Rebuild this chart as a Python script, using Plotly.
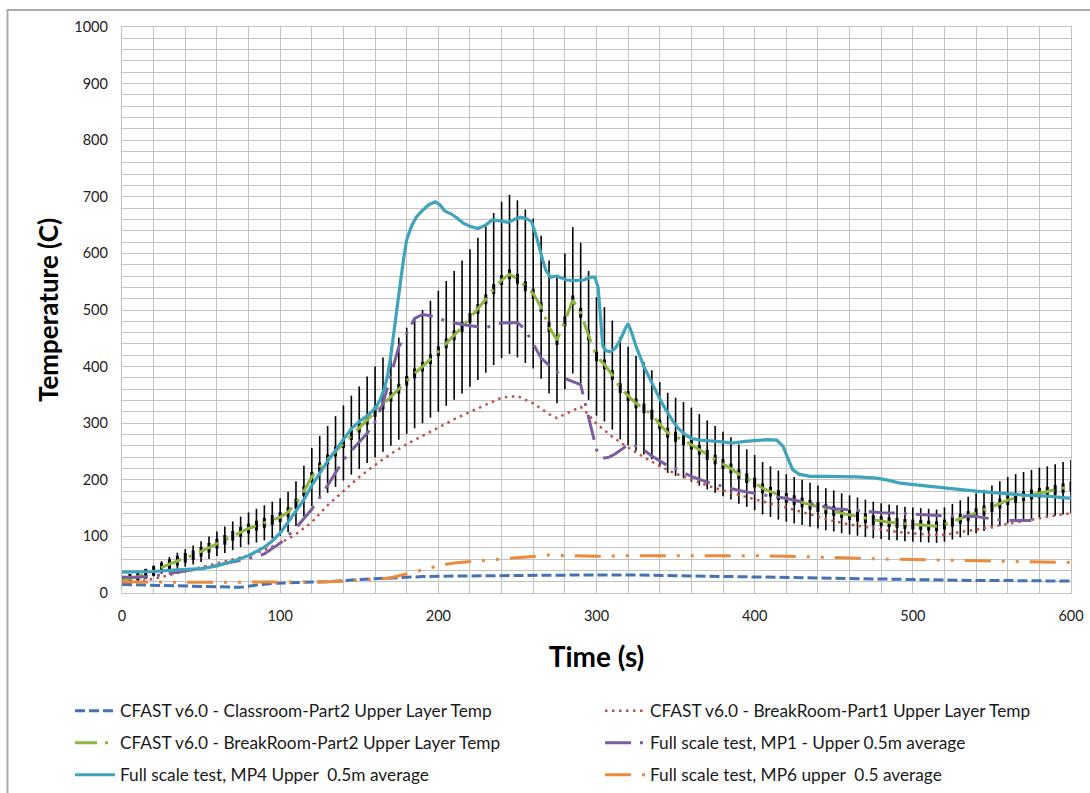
import plotly.graph_objects as go

# ---------------- data ----------------
# CFAST v6.0 - BreakRoom-Part2 (5 s steps, 0..600)
t_green = list(range(0, 605, 5))
green = [22, 25, 29, 34, 39, 45, 51, 57, 62, 67, 73, 80, 87, 94, 101, 108, 114, 119, 124, 129,
         134, 143, 158, 180, 205, 222, 236, 250, 265, 279, 292, 306, 320, 333, 347, 361, 375, 388, 400, 413,
         427, 441, 455, 470, 486, 502, 519, 537, 553, 563, 555, 542, 529, 505, 470, 447, 480, 517, 495, 455,
         418, 404, 385, 362, 348, 335, 326, 315, 298, 283, 276, 270, 262, 253, 244, 236, 228, 220, 210, 203,
         195, 185, 179, 173, 168, 164, 160, 156, 152, 148, 145, 141, 138, 135, 132, 129, 127, 125, 124, 122,
         121, 120, 119, 118, 121, 126, 131, 136, 141, 146, 152, 158, 164, 168, 171, 174, 177, 179, 182, 185,
         188]

# CFAST v6.0 - Classroom-Part2
t_blue = [0, 20, 40, 60, 75, 85, 95, 110, 130, 150, 170, 190, 210, 240, 280, 300, 320, 340, 360, 380,
          400, 420, 440, 460, 480, 500, 520, 540, 560, 580, 600]
blue = [15, 14, 13, 11, 10, 14, 17, 18.5, 20, 24, 27, 29, 30, 31, 32, 32, 32, 31, 31, 30,
        29, 27, 26, 25, 25, 24, 22, 22, 22, 21, 21]

# CFAST v6.0 - BreakRoom-Part1
t_red = [0, 10, 20, 30, 40, 50, 60, 70, 80, 90, 100, 110, 120, 130, 140, 150, 160, 170, 180, 190,
         200, 210, 220, 230, 240, 250, 260, 270, 275, 280, 290, 295, 300, 310, 320, 330, 340, 350, 360, 370,
         380, 390, 400, 410, 420, 430, 440, 450, 460, 470, 480, 490, 500, 510, 520, 530, 540, 550, 560, 570,
         580, 590, 600]
red = [18, 20, 25, 32, 39, 46, 53, 60, 66, 76, 88, 104, 125, 155, 180, 205, 226, 246, 263, 278,
       292, 307, 320, 333, 345, 348, 335, 316, 309, 316, 329, 315, 299, 276, 257, 240, 224, 211, 200, 190,
       181, 173, 166, 158, 151, 143, 134, 127, 121, 116, 112, 108, 105, 103, 103, 107, 112, 117, 122, 128,
       133, 137, 141]

# Full scale test, MP1 - Upper 0.5m average
t_purple = [0, 10, 20, 30, 40, 50, 60, 70, 80, 90, 100, 110, 120, 130, 140, 150, 155, 160, 165, 170,
            175, 180, 185, 190, 195, 200, 210, 220, 230, 240, 250, 255, 260, 265, 270, 280, 290, 293, 296, 300,
            304, 308, 312, 320, 327, 335, 345, 360, 370, 380, 390, 400, 410, 420, 430, 440, 450, 460, 470, 480,
            490, 500, 510, 520, 530, 540, 550, 560, 575]
purple = [28, 28, 30, 35, 39, 43, 49, 56, 61, 69, 88, 115, 148, 190, 235, 267, 282, 303, 335, 385,
          435, 458, 485, 492, 490, 485, 477, 472, 469, 477, 478, 465, 440, 415, 402, 379, 368, 335, 300, 253,
          238, 240, 246, 262, 259, 242, 225, 206, 196, 188, 181, 176, 172, 167, 161, 155, 149, 147, 144, 142,
          141, 140, 138, 136, 135, 135, 131, 128, 128]

# Full scale test, MP4 Upper 0.5m average
t_teal = [0, 10, 20, 30, 40, 50, 60, 70, 80, 90, 95, 100, 105, 110, 115, 120, 125, 130, 135, 140,
          145, 150, 155, 160, 163, 166, 168, 170, 172, 174, 176, 178, 180, 183, 186, 190, 194, 198, 201, 204,
          208, 212, 216, 220, 225, 230, 234, 238, 244, 248, 252, 256, 259, 262, 264, 266, 268, 271, 275, 281,
          286, 292, 296, 299, 301, 302, 304, 306, 309, 312, 315, 318, 320, 322, 325, 330, 334, 340, 344, 348,
          352, 356, 360, 366, 376, 386, 394, 401, 408, 414, 418, 421, 424, 428, 435, 445, 456, 465, 477, 485,
          492, 500, 510, 523, 540, 555, 570, 585, 600]
teal = [37, 37, 38, 40, 41, 43, 48, 56, 66, 81, 92, 106, 125, 145, 165, 190, 212, 233, 252, 272,
        290, 303, 313, 326, 340, 362, 385, 420, 460, 500, 548, 590, 624, 648, 664, 676, 686, 691, 686, 675,
        670, 662, 653, 648, 644, 650, 659, 658, 655, 660, 664, 661, 656, 630, 608, 588, 570, 558, 560, 553,
        552, 553, 558, 558, 540, 500, 436, 428, 426, 433, 447, 466, 476, 462, 436, 400, 376, 343, 323, 305,
        290, 280, 273, 270, 268, 265, 268, 270, 271, 270, 259, 238, 218, 210, 206, 206, 206, 205, 203, 199,
        194, 192, 189, 185, 180, 176, 173, 171, 167]

# Full scale test, MP6 upper 0.5 average
t_orange = [0, 20, 40, 60, 80, 100, 120, 130, 140, 150, 160, 170, 180, 190, 200, 210, 220, 230, 240, 250,
            260, 270, 280, 290, 300, 320, 340, 360, 380, 400, 420, 440, 460, 480, 500, 520, 540, 560, 580, 600]
orange = [20, 19, 19, 19, 19, 19, 19, 20, 21, 22, 24, 27, 34, 41, 48, 53, 56, 58, 60, 62,
          65, 67, 66, 65, 65, 66, 66, 67, 67, 66, 65, 64, 62, 60, 59, 57, 56, 55, 54, 54]

names = [
    "CFAST v6.0 - Classroom-Part2 Upper Layer Temp",
    "CFAST v6.0 - BreakRoom-Part1 Upper Layer Temp",
    "CFAST v6.0 - BreakRoom-Part2 Upper Layer Temp",
    "Full scale test, MP1 - Upper 0.5m average",
    "Full scale test, MP4 Upper  0.5m average",
    "Full scale test, MP6 upper  0.5 average",
]
error_percent = 25

# ---------------- styles ----------------
C_BLUE = "#4472B6"
C_RED = "#C0504D"
C_GREEN = "#8DB540"
C_PURPLE = "#7B5EA0"
C_TEAL = "#3FA3BC"
C_ORANGE = "#EA8A3C"
FONT = "Lato"

W, H = 1090, 793
L, R, T, B = 122, 19, 27, 200
pw, ph = W - L - R, H - T - B


def px_x(p):  # page px -> paper x
    return (p - L) / pw


def px_y(p):  # page px -> paper y
    return (H - B - p) / ph


fig = go.Figure()

# error bars + black markers around BreakRoom-Part2
fig.add_trace(go.Scatter(
    x=t_green, y=green, mode="markers", showlegend=False, hoverinfo="skip",
    marker=dict(symbol="line-ns", size=7, color="black", line=dict(color="black", width=3)),
    error_y=dict(type="percent", value=error_percent, color="black", thickness=1.6, width=0),
))

styles = [
    (t_blue, blue, dict(color=C_BLUE, width=3, dash="10px,4px")),
    (t_red, red, dict(color=C_RED, width=2.5, dash="2.5px,4.5px")),
    (t_green, green, dict(color=C_GREEN, width=3, dash="22px,8px,3px,8px")),
    (t_purple, purple, dict(color=C_PURPLE, width=3, dash="26px,9px,3px,9px")),
    (t_teal, teal, dict(color=C_TEAL, width=3.2)),
    (t_orange, orange, dict(color=C_ORANGE, width=3, dash="26px,11px,3px,11px,3px,11px")),
]
legend_ids = ["legend", "legend2", "legend3", "legend4", "legend5", "legend6"]
for (tx, vy, ln), nm, lg in zip(styles, names, legend_ids):
    fig.add_trace(go.Scatter(x=tx, y=vy, mode="lines", name=nm, legend=lg, line=ln))

GRID = "#C3C3C3"
col_x = [70, 600]
row_y = [711, 743, 775]
legends = {}
for i, lg in enumerate(legend_ids):
    legends[lg] = dict(orientation="v", xanchor="left", yanchor="middle",
                       x=px_x(col_x[i % 2]), y=px_y(row_y[i // 2]),
                       itemwidth=40, bgcolor="rgba(0,0,0,0)",
                       font=dict(family=FONT, size=17.3, color="#1a1a1a"))

fig.update_layout(
    width=W, height=H,
    margin=dict(l=L, r=R, t=T, b=B, autoexpand=False),
    paper_bgcolor="white", plot_bgcolor="white",
    font=dict(family=FONT, color="#222222"),
    showlegend=True,
    **legends,
    xaxis=dict(
        range=[0, 600], dtick=100, tick0=0, showgrid=True, gridcolor=GRID, gridwidth=1.3,
        minor=dict(dtick=20, showgrid=True, gridcolor=GRID, gridwidth=1.3),
        showline=True, linecolor=GRID, linewidth=1.3, mirror=True, zeroline=False,
        ticks="", ticklabelstandoff=9,
        tickfont=dict(family=FONT, size=14.5, color="#222222"),
        title=dict(text="Time (s)", standoff=24,
                   font=dict(family=FONT, size=28, weight="bold", color="black")),
    ),
    yaxis=dict(
        range=[0, 1000], dtick=100, tick0=0, showgrid=True, gridcolor=GRID, gridwidth=1.3,
        minor=dict(dtick=20, showgrid=True, gridcolor=GRID, gridwidth=1.3),
        showline=True, linecolor=GRID, linewidth=1.3, mirror=True, zeroline=False,
        ticks="", ticklabelstandoff=10,
        tickfont=dict(family=FONT, size=14.5, color="#222222"),
        title=dict(text="Temperature (C)", standoff=8,
                   font=dict(family=FONT, size=26, weight="bold", color="black")),
    ),
    shapes=[dict(type="rect", xref="paper", yref="paper",
                 x0=px_x(7.5), x1=px_x(1110), y0=px_y(810), y1=px_y(10),
                 line=dict(color="#ABABAB", width=2), fillcolor="rgba(0,0,0,0)", layer="below")],
)

page_fix = ("document.documentElement.style.margin='0';"
            "document.body.style.margin='0';"
            "document.documentElement.style.overflow='hidden';"
            "document.body.style.overflow='hidden';")

fig.write_html("out.html", post_script=page_fix, config={"displayModeBar": False})
